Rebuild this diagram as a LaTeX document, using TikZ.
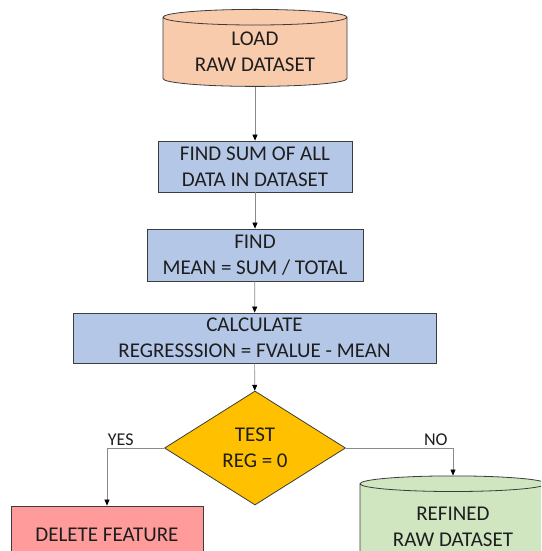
\documentclass[tikz,border=0pt]{standalone}
\usepackage{fontspec}
\setmainfont{Carlito}
\usetikzlibrary{shapes.geometric,arrows.meta,positioning}

\definecolor{loadorange}{HTML}{F8CBAD}
\definecolor{stepblue}{HTML}{B4C7E7}
\definecolor{testgold}{HTML}{FFC000}
\definecolor{dropred}{HTML}{FF9B9B}
\definecolor{keepgreen}{HTML}{CFE6C1}
\definecolor{edgegray}{HTML}{3C3C3C}
\definecolor{linkgray}{HTML}{8A8A8A}
\definecolor{labelgray}{HTML}{1E1E1E}

\tikzset{
  flowtext/.style={align=center, text=labelgray, font=\fontsize{21}{26}\selectfont, inner sep=0pt},
  stepbox/.style={flowtext, rectangle, draw=edgegray, line width=0.8pt, fill=stepblue},
  datastore/.style={flowtext, cylinder, shape border rotate=90, aspect=0.13, draw=edgegray, line width=0.8pt},
  testbox/.style={flowtext, diamond, aspect=1.59, draw=edgegray, line width=0.8pt, fill=testgold},
  link/.style={draw=linkgray, line width=0.7pt, -{Triangle[length=6pt,width=5pt,color=black]}},
  branchlabel/.style={text=labelgray, font=\fontsize{18}{20}\selectfont, inner sep=2pt}
}

\begin{document}
\begin{tikzpicture}[x=1pt,y=-1pt]
  \clip (0,0) rectangle (541,551);

  % main column
  \node[datastore, fill=loadorange, minimum width=184pt, minimum height=77pt] (load) at (255,52) {LOAD\\RAW DATASET};
  \node[stepbox, minimum width=194pt, minimum height=51pt] (sum) at (255,166.5) {FIND SUM OF ALL\\DATA IN DATASET};
  \node[stepbox, minimum width=216pt, minimum height=52pt] (mean) at (255,255) {FIND\\MEAN = SUM / TOTAL};
  \node[stepbox, minimum width=363pt, minimum height=50pt] (regress) at (254.5,338) {CALCULATE\\REGRESSSION = FVALUE - MEAN};
  \node[testbox, minimum width=181pt, minimum height=114pt] (test) at (255,448) {TEST\\REG = 0};

  % outcomes
  \node[stepbox, fill=dropred, minimum width=192pt, minimum height=58pt] (drop) at (107,535) {DELETE FEATURE};
  \node[datastore, fill=keepgreen, minimum width=186pt, minimum height=94pt] (refined) at (453,527) {REFINED\\RAW DATASET};

  \draw[link] (load) -- (sum);
  \draw[link] (sum) -- (mean);
  \draw[link] (mean) -- (regress);
  \draw[link] (regress) -- (test);
  \draw[link] (test.west) -| node[branchlabel, pos=0.38, above] (yes) {YES} (drop.north);
  \draw[link] (test.east) -| node[branchlabel, pos=0.42, above] (no) {NO} (refined.north);
\end{tikzpicture}
\end{document}
